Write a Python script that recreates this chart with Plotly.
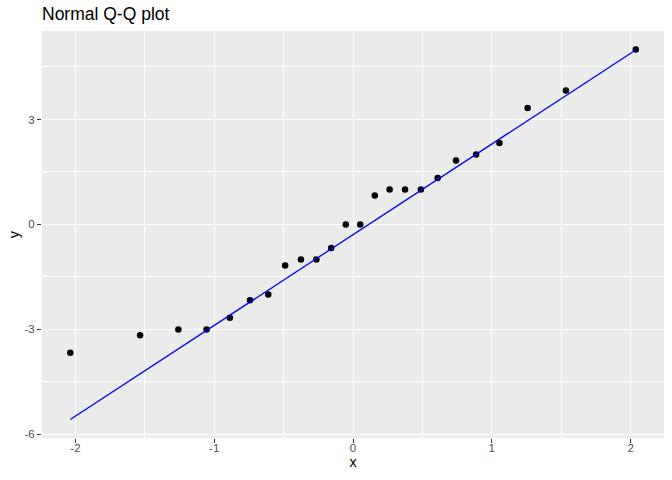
import numpy as np
import plotly.graph_objects as go

# Theoretical normal quantiles (x) and sample values (y)
theoretical = [-2.037, -1.534, -1.258, -1.055, -0.887, -0.742, -0.610, -0.489,
               -0.375, -0.264, -0.157, -0.052, 0.052, 0.157, 0.264, 0.375,
               0.489, 0.610, 0.742, 0.887, 1.055, 1.258, 1.534, 2.037]
sample = [-3.67, -3.17, -3.0, -3.0, -2.67, -2.17, -2.0, -1.17,
          -1.0, -1.0, -0.67, 0.0, 0.0, 0.83, 1.0, 1.0,
          1.0, 1.33, 1.83, 2.0, 2.33, 3.33, 3.83, 5.0]

x_ticks = [-2, -1, 0, 1, 2]
y_ticks = [-6, -3, 0, 3]

# qq-line through the quartiles
q1, q3 = np.percentile(sample, [25, 75])
zq = 0.6744897501960817
slope = (q3 - q1) / (2 * zq)
intercept = q1 + slope * zq
line_x = [min(theoretical), max(theoretical)]
line_y = [intercept + slope * v for v in line_x]

fig = go.Figure()
fig.add_trace(go.Scatter(x=theoretical, y=sample, mode="markers",
                         marker=dict(color="black", size=6.5, line=dict(width=0)),
                         showlegend=False, hoverinfo="skip"))
fig.add_trace(go.Scatter(x=line_x, y=line_y, mode="lines",
                         line=dict(color="blue", width=1.3),
                         showlegend=False, hoverinfo="skip"))

allx = theoretical
xr = max(allx) - min(allx)
ally = sample + line_y
yr = max(ally) - min(ally)

axis_common = dict(
    showline=False, zeroline=False, ticks="outside", ticklen=4, tickwidth=1,
    tickcolor="#333333", showgrid=True, gridcolor="white", gridwidth=1.1,
    automargin=False,
    tickfont=dict(family="Liberation Sans", size=11.5, color="#4D4D4D"),
)

fig.update_layout(
    width=672, height=480,
    margin=dict(l=42, r=8, t=31, b=42),
    paper_bgcolor="white", plot_bgcolor="#EBEBEB",
    font=dict(family="Liberation Sans", color="black"),
    title=dict(text="Normal Q-Q plot", x=0, xref="paper", xanchor="left",
               y=1 - 14 / 480, yref="container", yanchor="middle",
               automargin=False,
               font=dict(size=17.5, color="black", family="Liberation Sans")),
    xaxis=dict(
        range=[min(allx) - 0.05 * xr, max(allx) + 0.05 * xr],
        tickvals=x_ticks, ticktext=[str(v) for v in x_ticks],
        ticklabelstandoff=-5,
        minor=dict(tickvals=[-1.5, -0.5, 0.5, 1.5], showgrid=True,
                   gridcolor="white", gridwidth=0.55, ticks=""),
        title=dict(text="x", standoff=2, font=dict(size=14.5, color="black")),
        **axis_common),
    yaxis=dict(
        range=[min(ally) - 0.05 * yr, max(ally) + 0.05 * yr],
        tickvals=y_ticks, ticktext=[str(v) for v in y_ticks],
        minor=dict(tickvals=[-4.5, -1.5, 1.5, 4.5], showgrid=True,
                   gridcolor="white", gridwidth=0.55, ticks=""),
        title=dict(text="y", standoff=1, font=dict(size=14.5, color="black")),
        **axis_common),
)

fig.write_html("out.html", config={"displayModeBar": False})

# remove the browser's default page margin so the figure sits at the top-left
with open("out.html", "r", encoding="utf-8") as f:
    html = f.read()
html = html.replace("<head>", "<head><style>html,body{margin:0;padding:0;overflow:hidden;}</style>", 1)
with open("out.html", "w", encoding="utf-8") as f:
    f.write(html)
